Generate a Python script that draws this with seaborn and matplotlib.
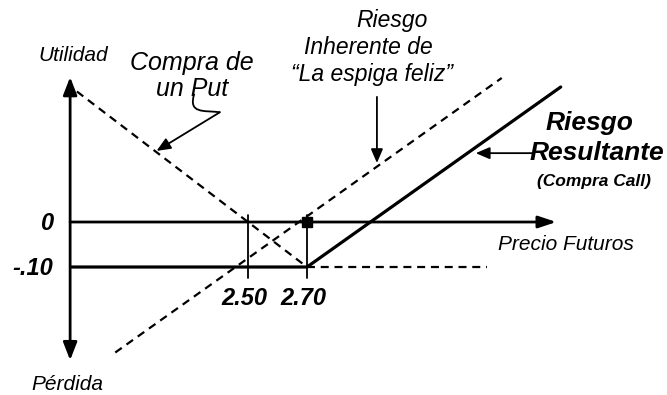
import matplotlib
matplotlib.use("Agg")
import matplotlib.pyplot as plt
import seaborn as sns
from matplotlib.path import Path
from matplotlib.patches import PathPatch

# Data (precio futuros vs utilidad)
precio_put = [1.92, 2.70, 3.31]
util_put = [0.29, -0.10, -0.10]

precio_espiga = [2.05, 3.36]
util_espiga = [-0.29, 0.32]

precio_call = [1.90, 2.70, 3.56]
util_call = [-0.10, -0.10, 0.30]

strikes = [2.50, 2.70]
strike_labels = ["2.50", "2.70"]
niveles = [0.0, -0.10]
nivel_labels = ["0", "-.10"]

sns.set_theme(style="white")
plt.rcParams["font.family"] = ["Liberation Sans", "DejaVu Sans"]
plt.rcParams["text.color"] = "black"

fig = plt.figure(figsize=(6.67, 3.95), dpi=100)
ax = fig.add_axes([0, 0, 1, 1])
ax.set_xlim(1.6593, 3.9203)
ax.set_ylim(-0.3844, 0.4933)
ax.axis("off")

dash = (0, (3.6, 2.6))

# 1. Compra de un Put (dashed)
sns.lineplot(x=precio_put, y=util_put, ax=ax, color="black", lw=1.6, linestyle=dash, sort=False)
# 2. Riesgo inherente (dashed)
sns.lineplot(x=precio_espiga, y=util_espiga, ax=ax, color="black", lw=1.6, linestyle=dash, sort=False)
# 3. Riesgo resultante (solid)
sns.lineplot(x=precio_call, y=util_call, ax=ax, color="black", lw=2.3, sort=False)

# Axes with arrows
x0 = 1.897
ax.annotate("", xy=(x0, 0.322), xytext=(x0, -0.307),
            arrowprops=dict(arrowstyle="<|-|>,head_length=0.9,head_width=0.35", color="black", lw=2, shrinkA=0, shrinkB=0))
ax.annotate("", xy=(3.545, 0), xytext=(x0, 0),
            arrowprops=dict(arrowstyle="-|>,head_length=0.9,head_width=0.3", color="black", lw=2, shrinkA=0, shrinkB=0))

# Strike guides
for s in strikes:
    ax.plot([s, s], [0.015, -0.125], color="black", lw=1.3)
ax.plot([strikes[1]], [0], marker="s", color="black", ms=7)

for s, lab in zip(strikes, strike_labels):
    ax.text(s - 0.012, -0.169, lab, ha="center", va="center", fontsize=17,
            fontweight="bold", fontstyle="italic")
for y, lab in zip(niveles, nivel_labels):
    ax.text(1.840, y - 0.004, lab, ha="right", va="center", fontsize=17,
            fontweight="bold", fontstyle="italic")

it = dict(fontstyle="italic", ha="center", va="center")
ax.text(1.906, 0.369, "Utilidad", fontsize=15, **it)
ax.text(1.888, -0.362, "Pérdida", fontsize=15, **it)
ax.text(3.578, -0.051, "Precio Futuros", fontsize=15, **it)
ax.text(2.31, 0.353, "Compra de", fontsize=18, **it)
ax.text(2.31, 0.295, "un Put", fontsize=18, **it)
ax.text(2.988, 0.447, "Riesgo", fontsize=16.5, **it)
ax.text(2.907, 0.387, "Inherente de", fontsize=16.5, **it)
ax.text(2.92, 0.327, "\u201cLa espiga feliz\u201d", fontsize=16.5, **it)

bi = dict(fontstyle="italic", fontweight="bold", ha="center", va="center")
ax.text(3.656, 0.220, "Riesgo", fontsize=19, **bi)
ax.text(3.683, 0.153, "Resultante", fontsize=19, **bi)
ax.text(3.673, 0.089, "(Compra Call)", fontsize=12.5, **bi)

# Annotation arrows
hook = Path([(2.318, 0.285), (2.296, 0.240), (2.35, 0.248), (2.405, 0.244)],
            [Path.MOVETO, Path.CURVE4, Path.CURVE4, Path.CURVE4])
ax.add_patch(PathPatch(hook, fill=False, color="black", lw=1.3))
ax.annotate("", xy=(2.19, 0.158), xytext=(2.405, 0.244),
            arrowprops=dict(arrowstyle="-|>,head_length=0.7,head_width=0.3", color="black", lw=1.3, shrinkA=0, shrinkB=0))
ax.annotate("", xy=(2.937, 0.131), xytext=(2.937, 0.278),
            arrowprops=dict(arrowstyle="-|>,head_length=0.7,head_width=0.3", color="black", lw=1.3, shrinkA=0, shrinkB=0))
ax.annotate("", xy=(3.272, 0.153), xytext=(3.466, 0.153),
            arrowprops=dict(arrowstyle="-|>,head_length=0.7,head_width=0.3", color="black", lw=1.3, shrinkA=0, shrinkB=0))

fig.savefig("out.png", dpi=100, facecolor="white")
